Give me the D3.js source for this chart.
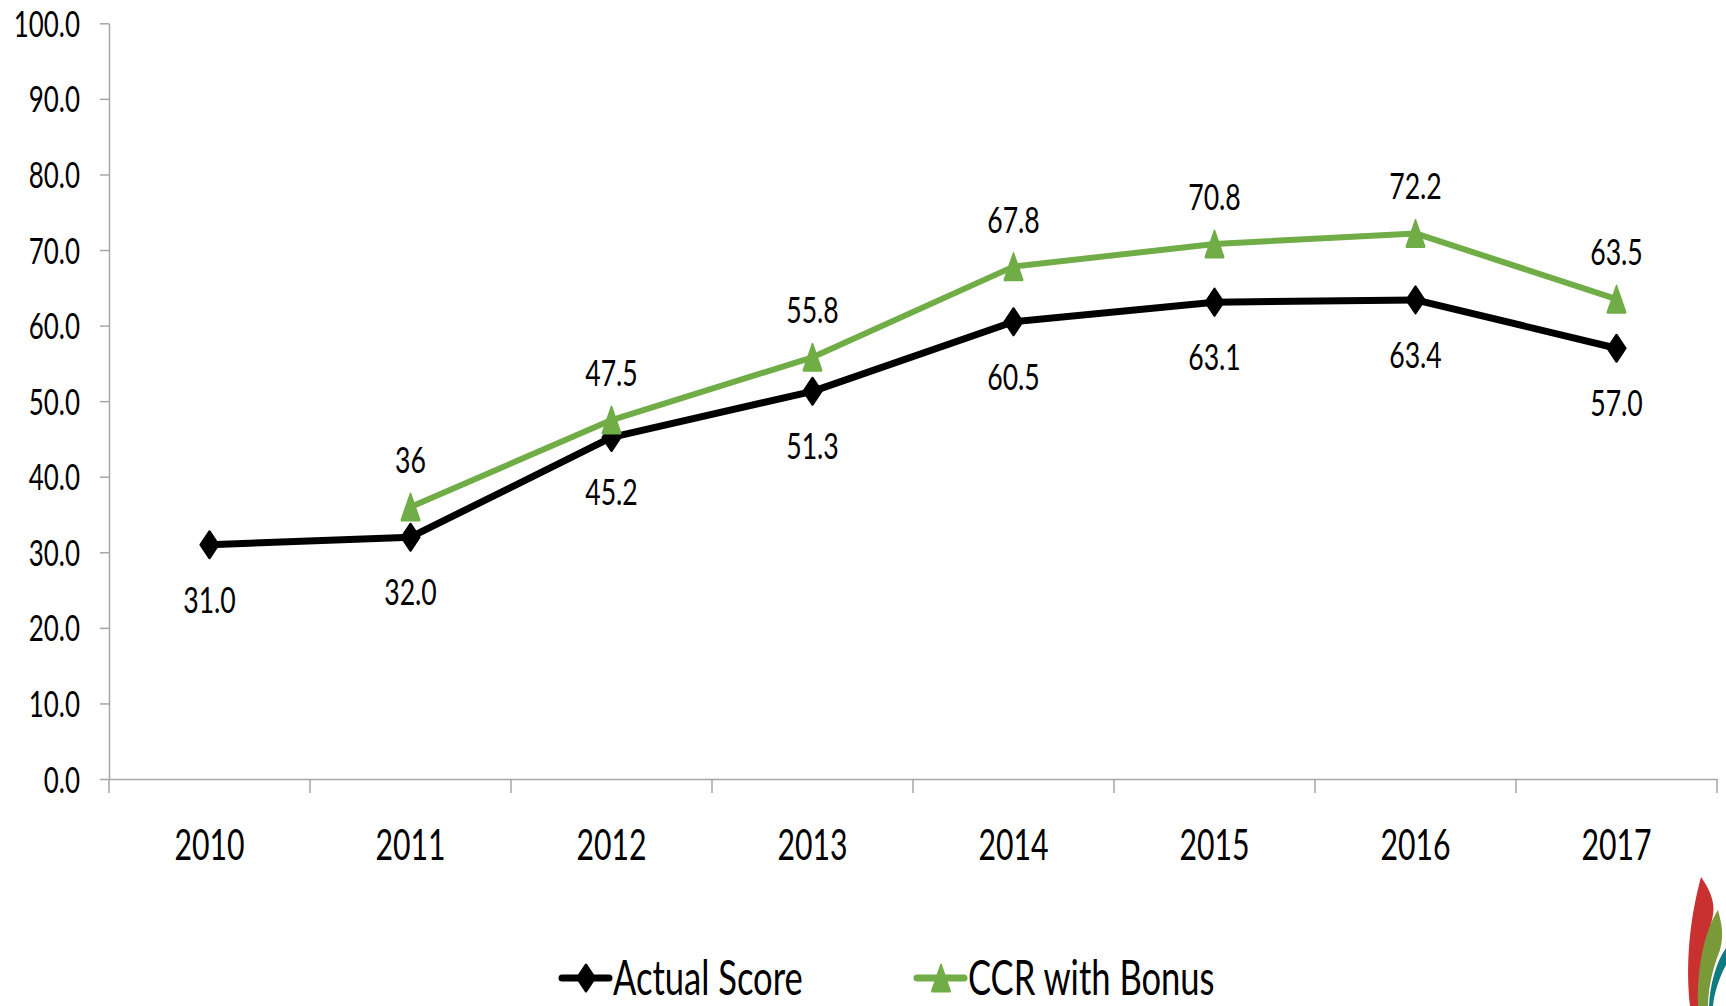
<!DOCTYPE html>
<html>
<head>
<meta charset="utf-8">
<script src="https://cdn.jsdelivr.net/npm/d3@7"></script>
<style>
  body { margin: 0; background: #fff; }
  svg { display: block; }
</style>
</head>
<body>
<div id="wrapper"></div>
<script>
// data
const years = ['2010', '2011', '2012', '2013', '2014', '2015', '2016', '2017']
const actualScore = [31.0, 32.0, 45.2, 51.3, 60.5, 63.1, 63.4, 57.0]
const ccrBonus = [null, 36, 47.5, 55.8, 67.8, 70.8, 72.2, 63.5]
const ccrLabels = ['', '36', '47.5', '55.8', '67.8', '70.8', '72.2', '63.5']
const yTicks = [0, 10, 20, 30, 40, 50, 60, 70, 80, 90, 100]
const seriesNames = ['Actual Score', 'CCR with Bonus']

const width = 1726
const height = 1006
const font = 'Lato, "Open Sans", sans-serif'
const squeeze = 0.72 // text in the reference is narrow/tall
const axisColor = '#a6a6a6'
const green = '#70ad47'

const svg = d3.select('#wrapper').append('svg')
  .attr('width', width)
  .attr('height', height)

const x = d3.scaleBand().domain(years).range([109, 1717]).padding(0)
const y = d3.scaleLinear().domain([0, 100]).range([779, 23.3])
const cx = (yr) => x(yr) + x.bandwidth() / 2

// y axis
const yAxis = svg.append('g')
  .attr('transform', 'translate(109,0)')
  .call(d3.axisLeft(y).tickValues(yTicks).tickSize(9).tickSizeOuter(0).tickFormat(d3.format('.1f')))
yAxis.select('.domain').attr('stroke', axisColor).attr('stroke-width', 1.5)
yAxis.selectAll('line').attr('stroke', axisColor).attr('stroke-width', 1.5)
yAxis.selectAll('text')
  .attr('x', null).attr('dy', null)
  .attr('transform', `translate(-29,13) scale(${squeeze},1)`)
  .attr('text-anchor', 'end')
  .style('font-family', font).style('font-size', '36px').attr('fill', '#000')

// x axis
const xAxis = svg.append('g')
  .attr('transform', 'translate(0,779)')
  .call(d3.axisBottom(x).tickSize(0).tickSizeOuter(0))
xAxis.select('.domain').attr('stroke', axisColor).attr('stroke-width', 1.5)
xAxis.selectAll('text')
  .attr('y', null).attr('dy', null)
  .attr('transform', `translate(0,81) scale(${squeeze},1)`)
  .style('font-family', font).style('font-size', '42px').attr('fill', '#000')
xAxis.selectAll('.boundary')
  .data([...years.map((d) => x(d)), x.range()[1]])
  .enter().append('line')
  .attr('class', 'boundary')
  .attr('x1', (d) => d).attr('x2', (d) => d)
  .attr('y1', 0).attr('y2', 14)
  .attr('stroke', axisColor).attr('stroke-width', 1.5)

const actualData = years.map((yr, i) => ({ year: yr, value: actualScore[i], label: d3.format('.1f')(actualScore[i]) }))
const ccrData = years.map((yr, i) => ({ year: yr, value: ccrBonus[i], label: ccrLabels[i] }))

const line = d3.line()
  .defined((d) => d.value != null)
  .x((d) => cx(d.year))
  .y((d) => y(d.value))

// markers
const diamond = d3.symbol(d3.symbolDiamond, 210)()
const triangle = d3.symbol(d3.symbolTriangle, 390)()
const triDrop = Math.sqrt(390 / (Math.sqrt(3) * 3)) / 2

const drawDiamond = (g, px, py) =>
  g.append('path').attr('d', diamond)
    .attr('transform', `translate(${px},${py}) scale(1.15,1)`)
    .attr('fill', '#000').attr('stroke', '#000').attr('stroke-width', 2)
    .attr('stroke-linejoin', 'round')
const drawTriangle = (g, px, py) =>
  g.append('path').attr('d', triangle)
    .attr('transform', `translate(${px},${py + triDrop}) scale(0.6,1)`)
    .attr('fill', green).attr('stroke', green).attr('stroke-width', 3)
    .attr('stroke-linejoin', 'round')

// actual score
svg.append('path').datum(actualData)
  .attr('d', line)
  .attr('fill', 'none').attr('stroke', '#000').attr('stroke-width', 7)
  .attr('stroke-linejoin', 'round').attr('stroke-linecap', 'round')

// ccr with bonus
svg.append('path').datum(ccrData)
  .attr('d', line)
  .attr('fill', 'none').attr('stroke', green).attr('stroke-width', 6)
  .attr('stroke-linejoin', 'round').attr('stroke-linecap', 'round')

const markers = svg.append('g')
actualData.forEach((d) => drawDiamond(markers, cx(d.year), y(d.value)))
ccrData.filter((d) => d.value != null).forEach((d) => drawTriangle(markers, cx(d.year), y(d.value)))

const labels = svg.append('g')
  .style('font-family', font).style('font-size', '37px').attr('fill', '#000')
labels.selectAll('.lab-actual')
  .data(actualData)
  .enter().append('text')
  .attr('class', 'lab-actual')
  .attr('text-anchor', 'middle')
  .attr('transform', (d) => `translate(${cx(d.year)},${y(d.value) + 68}) scale(${squeeze},1)`)
  .text((d) => d.label)
labels.selectAll('.lab-ccr')
  .data(ccrData.filter((d) => d.value != null))
  .enter().append('text')
  .attr('class', 'lab-ccr')
  .attr('text-anchor', 'middle')
  .attr('transform', (d) => `translate(${cx(d.year)},${y(d.value) - 34}) scale(${squeeze},1)`)
  .text((d) => d.label)

// legend
const legend = svg.append('g').attr('transform', 'translate(0,978)')
const legendItems = [
  { name: seriesNames[0], x: 562, color: '#000', marker: drawDiamond },
  { name: seriesNames[1], x: 917, color: green, marker: drawTriangle },
]
legendItems.forEach((it) => {
  legend.append('line')
    .attr('x1', it.x).attr('x2', it.x + 47)
    .attr('y1', 0).attr('y2', 0)
    .attr('stroke', it.color).attr('stroke-width', 7).attr('stroke-linecap', 'round')
  it.marker(legend, it.x + 24, 0)
  legend.append('text')
    .attr('transform', `translate(${it.x + 51},17) scale(${squeeze},1)`)
    .style('font-family', font).style('font-size', '48px').attr('fill', '#000')
    .text(it.name)
})

// corner logo
const logo = svg.append('g')
logo.append('path')
  .attr('d', 'M1701,877 C1712,893 1716,905 1712,920 C1705,945 1700,975 1701,1006 L1690,1006 C1686,970 1688,925 1701,877 Z')
  .attr('fill', '#c8312f')
logo.append('path')
  .attr('d', 'M1718,910 C1722,925 1724,935 1720,950 C1712,970 1708,990 1708,1006 L1698,1006 C1697,975 1702,935 1718,910 Z')
  .attr('fill', '#7a9a3a')
logo.append('path')
  .attr('d', 'M1726,948 L1726,965 C1718,980 1714,995 1713,1006 L1709,1006 C1710,985 1716,962 1726,948 Z')
  .attr('fill', '#0f7a80')
</script>
</body>
</html>
